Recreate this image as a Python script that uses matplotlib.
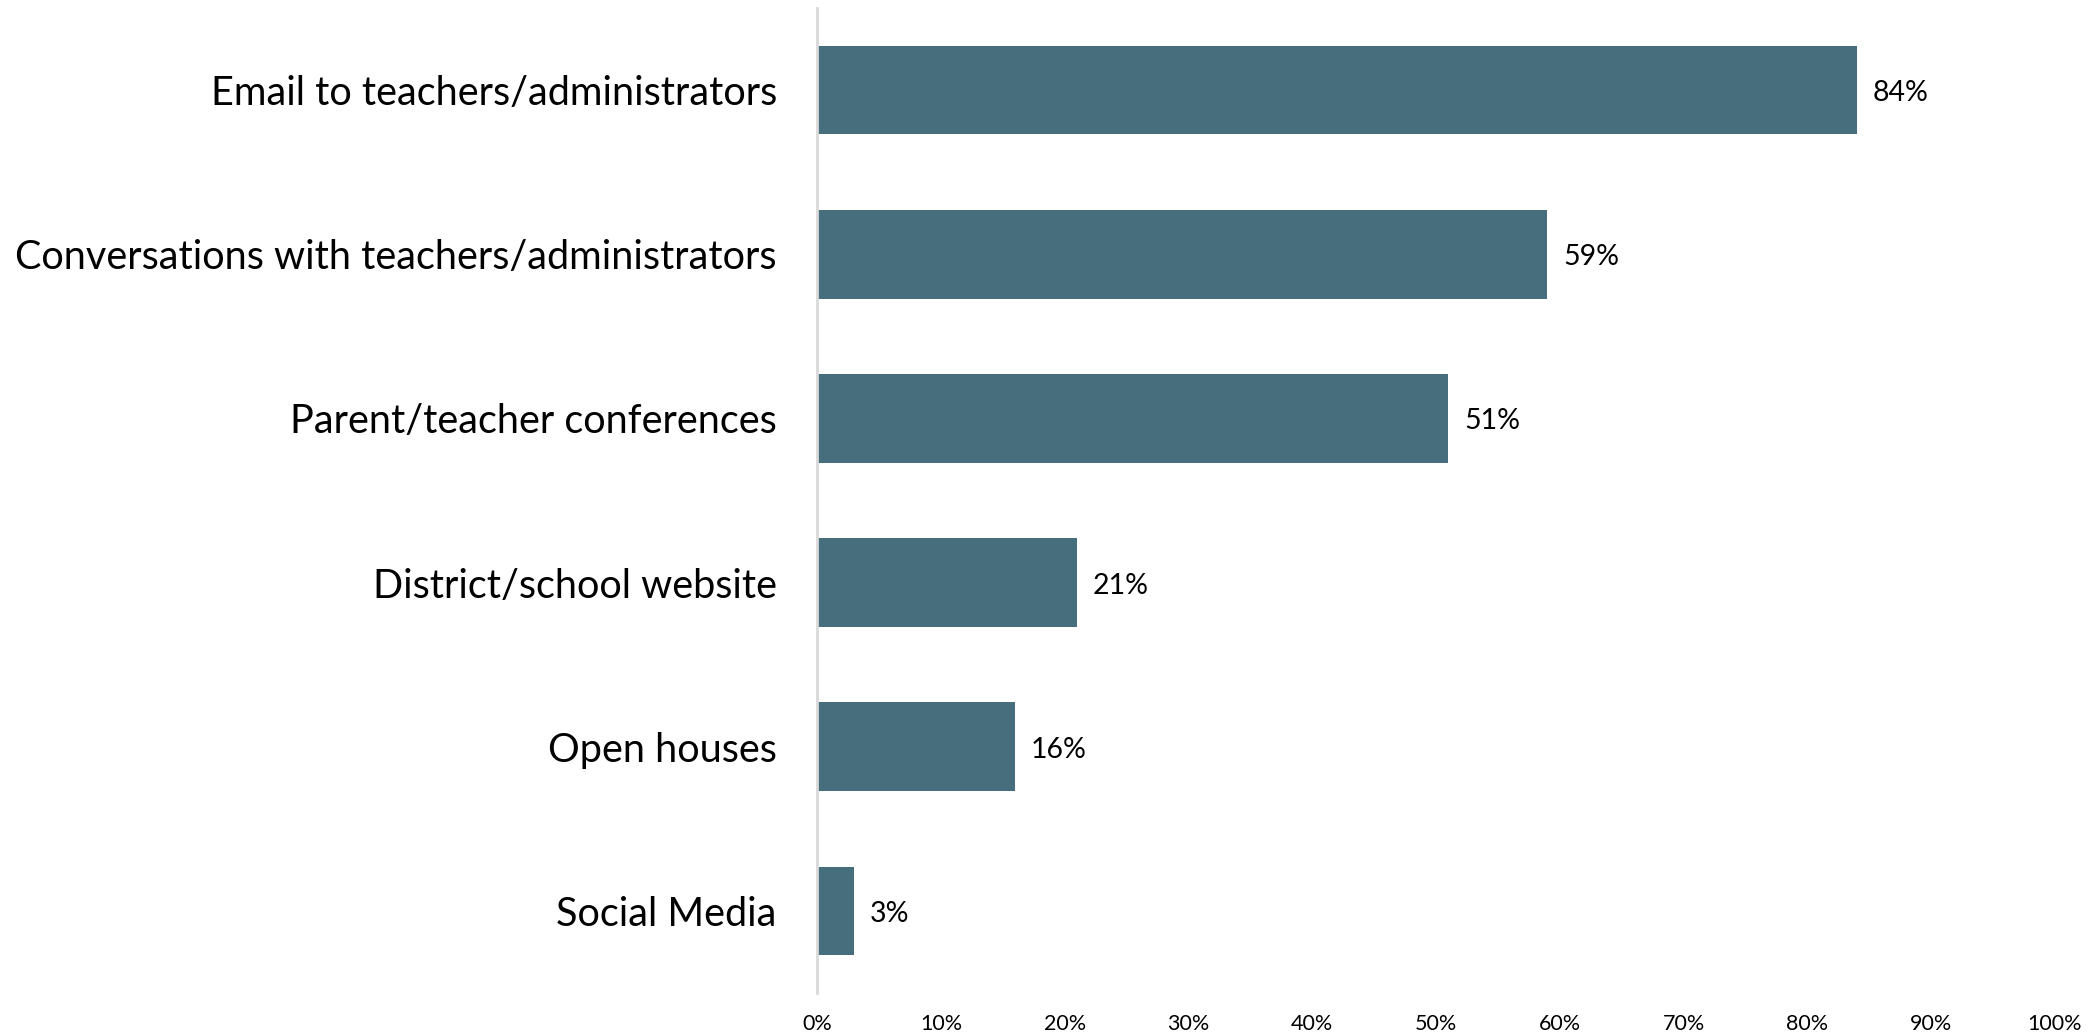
import numpy as np
import matplotlib
matplotlib.use("Agg")
import matplotlib.pyplot as plt
from matplotlib.ticker import PercentFormatter

# Datos
categorias = ["Email to teachers/administrators",
              "Conversations with teachers/administrators",
              "Parent/teacher conferences",
              "District/school website",
              "Open houses",
              "Social Media"]
valores = [84, 59, 51, 21, 16, 3]
ticks = np.arange(0, 101, 10)

plt.rcParams['font.family'] = ['Lato', 'DejaVu Sans']

fig = plt.figure(figsize=(20.93, 10.36), dpi=100)
ax = fig.add_axes([0.3904, 0.0415, 0.5914, 0.9508])

y = np.arange(len(categorias))
barras = ax.barh(y, valores, height=0.54, color="#466e7d")
ax.set_ylim(len(categorias) - 0.5, -0.5)
ax.set_xlim(0, 100)

ax.set_yticks(y)
ax.set_yticklabels(categorias, fontsize=28.5)
ax.set_xticks(ticks)
ax.xaxis.set_major_formatter(PercentFormatter(decimals=0))
ax.tick_params(axis="x", labelsize=15.5, length=0, pad=15)
ax.tick_params(axis="y", length=0, pad=29)

# etiquetas de valor
for b, v in zip(barras, valores):
    ax.annotate(f"{v}%", (b.get_width(), b.get_y() + b.get_height() / 2),
                xytext=(16, -3), textcoords="offset pixels",
                va="center", ha="left", fontsize=20.5)

for s in ["top", "right", "bottom"]:
    ax.spines[s].set_visible(False)
ax.spines["left"].set_color("#d9d9d9")
ax.spines["left"].set_linewidth(2)

fig.savefig("out.png", dpi=100)
